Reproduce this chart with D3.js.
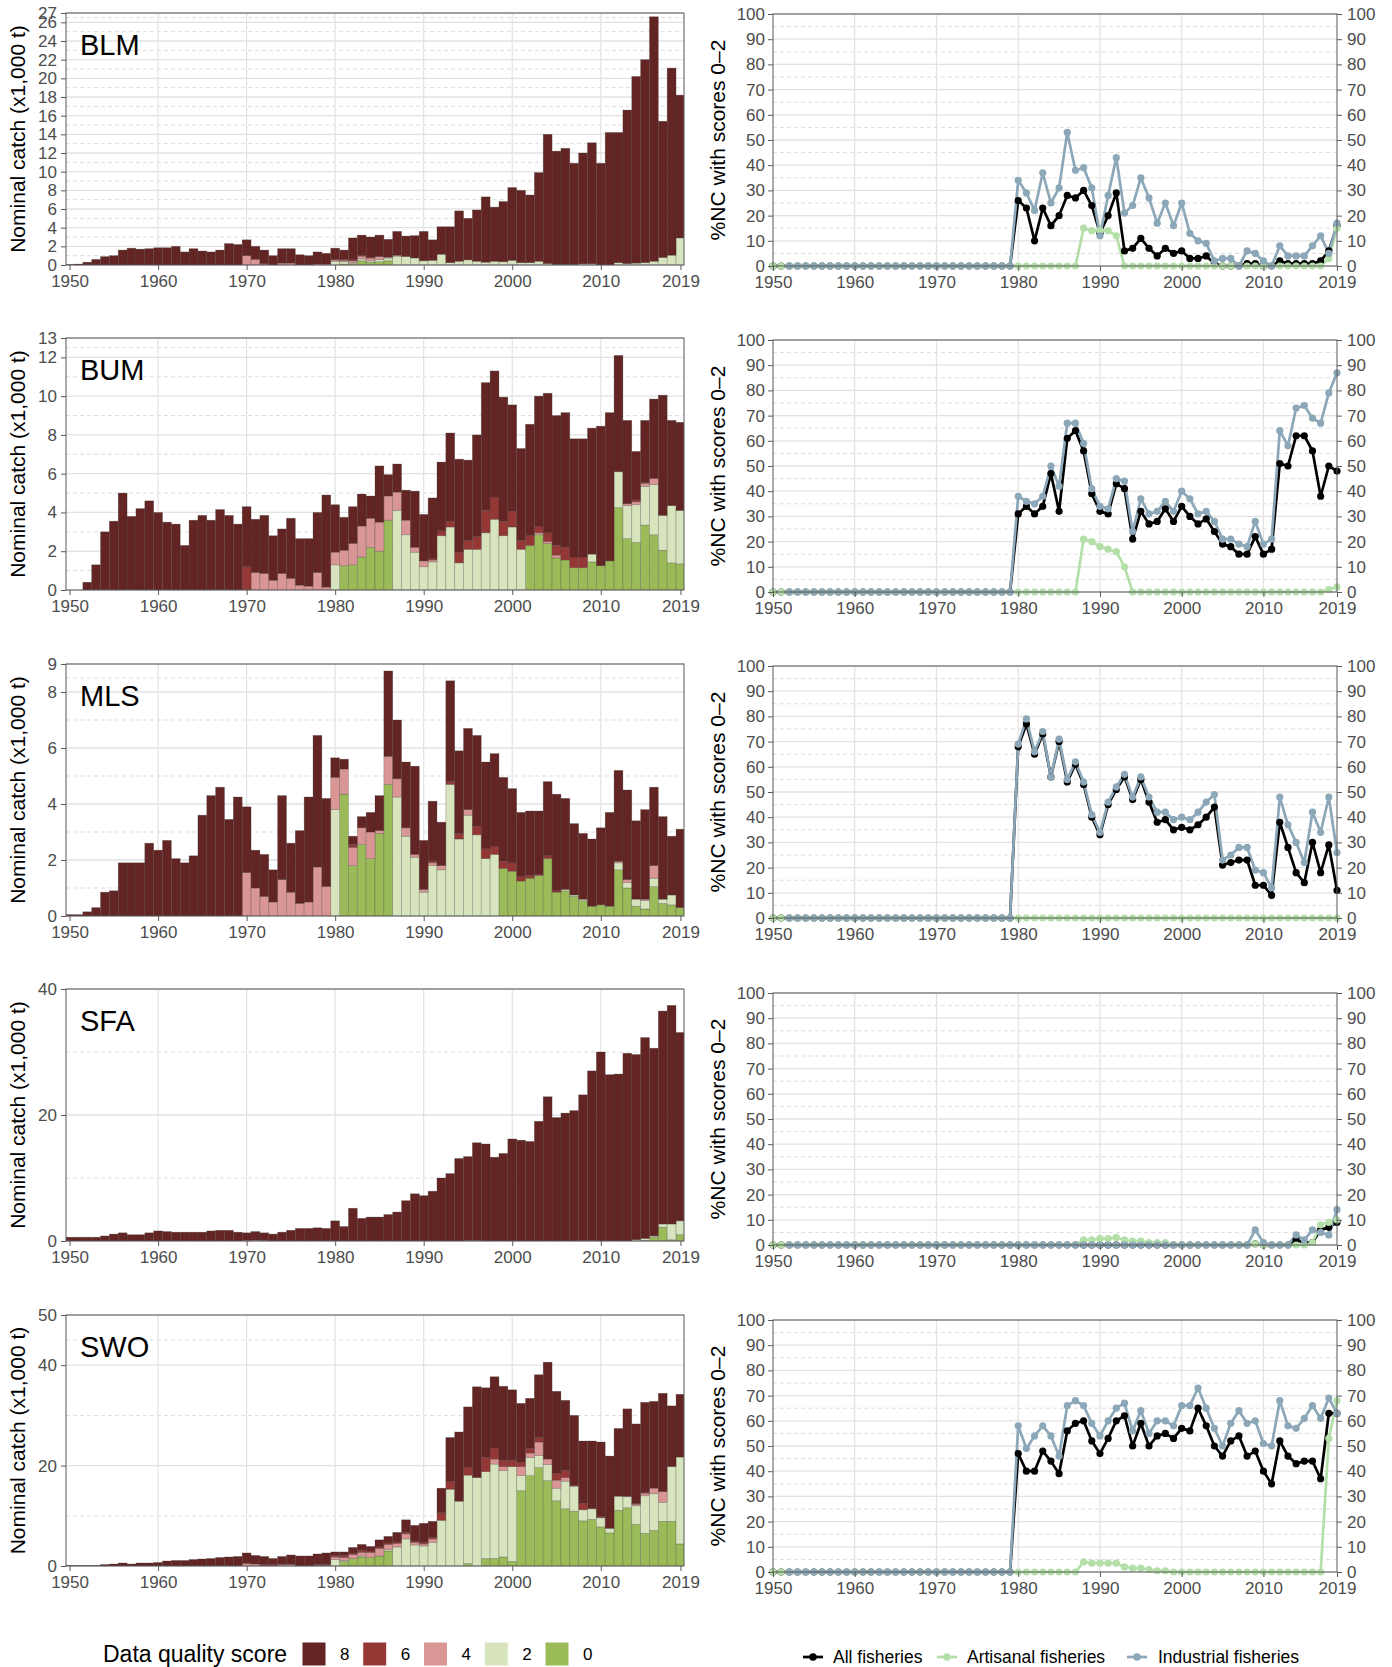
<!DOCTYPE html>
<html>
<head>
<meta charset="utf-8">
<script src="https://cdn.jsdelivr.net/npm/d3@7"></script>
<style>
  body { margin: 0; background: #ffffff; }
  svg text { font-family: "Liberation Sans", Arial, sans-serif; }
</style>
</head>
<body>
<svg id="fig" width="1392" height="1667"></svg>
<script>
// ---------- categories ----------
const years = d3.range(1950, 2020);
const yearTicks = [1950, 1960, 1970, 1980, 1990, 2000, 2010, 2019];
const pctTicks = [0, 10, 20, 30, 40, 50, 60, 70, 80, 90, 100];
const speciesNames = ["BLM", "BUM", "MLS", "SFA", "SWO"];
const scoreKeys = ["8", "6", "4", "2", "0"];
const seriesNames = ["All fisheries", "Artisanal fisheries", "Industrial fisheries"];

// ---------- y-axis breaks for nominal catch (x1,000 t) ----------
const blmTicks = [0, 2, 4, 6, 8, 10, 12, 14, 16, 18, 20, 22, 24, 26, 27];
const bumTicks = [0, 2, 4, 6, 8, 10, 12, 13];
const mlsTicks = [0, 2, 4, 6, 8, 9];
const sfaTicks = [0, 20, 40];
const swoTicks = [0, 20, 40, 50];

// ---------- nominal catch by data quality score, 1950-2019 ----------
const blm8 = [
  0.05,0.1,0.3,0.6,0.9,1.0,1.6,1.8,1.7,1.75,
  1.85,1.85,2.0,1.4,1.75,1.5,1.4,1.6,2.3,2.2,
  1.7,1.4,1.4,1.0,1.55,1.55,1.1,1.0,1.3,1.15,
  1.15,1.0,2.35,2.15,2.15,2.3,1.9,2.55,2.2,2.4,
  3.15,2.2,2.95,3.85,5.4,4.45,5.5,7.0,5.8,6.45,
  7.8,7.75,7.25,9.5,13.85,12.15,12.45,10.85,11.88,12.97,
  10.9,14.2,13.95,16.45,20.0,21.75,26.2,14.6,20.05,15.3];
const blm6 = [
  0,0,0,0,0,0,0,0,0,0,
  0,0,0,0,0,0,0,0,0,0,
  0,0,0.1,0,0,0,0,0,0,0,
  0.1,0.1,0.1,0.1,0.1,0,0,0,0,0,
  0,0,0,0,0,0,0,0,0,0,
  0,0,0,0,0,0,0,0,0,0,
  0,0,0,0,0,0,0,0,0,0];
const blm4 = [
  0,0,0,0,0,0,0,0,0,0,
  0,0,0,0,0,0,0,0,0,0,
  1.0,0.6,0.1,0,0.2,0.2,0,0,0.1,0.1,
  0.15,0.15,0.2,0.3,0.3,0.3,0.1,0.1,0,0,
  0,0,0,0,0,0,0,0,0,0,
  0,0,0,0,0,0,0,0,0,0,
  0,0,0,0,0,0,0,0,0,0];
const blm2 = [
  0,0,0,0,0,0,0,0,0,0,
  0,0,0,0,0,0,0,0,0,0,
  0,0,0,0,0,0,0,0,0,0,
  0.4,0.25,0.1,0.2,0.15,0.25,0.3,0.95,0.9,0.75,
  0.45,0.5,1.15,0.25,0.4,0.55,0.4,0.3,0.4,0.35,
  0.5,0.25,0.25,0.4,0.15,0.05,0.05,0.05,0.12,0.13,
  0,0,0.25,0.15,0.2,0.25,0.4,0.8,1.05,2.9];
const blm0 = [
  0,0,0,0,0,0,0,0,0,0,
  0,0,0,0,0,0,0,0,0,0,
  0,0,0,0,0,0,0,0,0,0,
  0,0.1,0.15,0.45,0.3,0.35,0.45,0,0,0,
  0,0,0,0,0,0,0,0,0,0,
  0,0,0,0,0,0,0,0,0,0,
  0,0,0,0,0,0,0,0,0,0];

const bum8 = [
  0,0,0.4,1.3,3.0,3.55,5.0,3.8,4.2,4.6,
  4.0,3.5,3.4,2.3,3.6,3.85,3.6,4.15,3.85,3.4,
  3.1,2.75,3.0,2.3,2.3,3.1,2.4,2.45,3.1,4.75,
  2.45,1.7,1.9,1.65,1.15,2.9,1.1,1.45,1.55,2.9,
  2.4,3.1,3.55,4.55,4.8,4.15,5.25,6.6,6.5,6.4,
  5.5,4.75,5.75,6.7,7.2,6.7,6.95,6.1,6.1,6.5,
  7.2,7.65,6.0,4.3,2.5,3.2,4.1,6.2,4.4,4.55];
const bum6 = [
  0,0,0,0,0,0,0,0,0,0,
  0,0,0,0,0,0,0,0,0,0,
  1.2,0,0,0,0,0,0,0,0,0,
  0,0,0,0,0,0,0,0,0,0,
  0,0.1,0.25,0.3,0.55,0.45,0.65,1.15,1.15,0.75,
  0.8,0.45,0.5,0.35,0.45,0.5,0.65,0.55,0.55,0,
  0,0,0,0,0.1,0.05,0,0,0,0];
const bum4 = [
  0,0,0,0,0,0,0,0,0,0,
  0,0,0,0,0,0,0,0,0,0,
  0,0.9,0.85,0.5,0.85,0.6,0.25,0.2,0.9,0.15,
  0.65,0.8,1.1,1.6,1.5,1.5,1.25,0.95,0.75,0.25,
  0.3,0.1,0,0,0,0,0,0,0,0,
  0,0,0,0.1,0.1,0.15,0,0,0,0,
  0,0,0,0.1,0.15,0.15,0.3,0,0,0];
const bum2 = [
  0,0,0,0,0,0,0,0,0,0,
  0,0,0,0,0,0,0,0,0,0,
  0,0,0,0,0,0,0,0,0,0,
  1.3,0,0,0,0,0,0,4.1,2.85,1.95,
  1.2,1.45,2.8,3.25,1.4,2.1,2.1,2.95,3.65,2.8,
  3.25,2.1,0,0,0,0,0,0,0,0.4,
  0,0,1.85,1.7,1.95,2.0,2.6,1.8,2.95,2.75];
const bum0 = [
  0,0,0,0,0,0,0,0,0,0,
  0,0,0,0,0,0,0,0,0,0,
  0,0,0,0,0,0,0,0,0,0,
  0,1.25,1.3,1.7,2.2,2.0,3.6,0,0,0,
  0,0,0,0,0,0,0,0,0,0,
  0,0,2.3,2.85,2.4,1.65,1.55,1.15,1.15,1.45,
  1.25,1.5,4.25,2.65,2.45,3.35,2.85,2.05,1.4,1.35];

const mls8 = [
  0.05,0.05,0.15,0.3,0.85,0.9,1.9,1.9,1.9,2.6,
  2.35,2.7,2.05,1.9,2.15,3.6,4.3,4.6,3.45,4.25,
  2.35,1.35,1.5,1.15,3.0,1.75,2.6,3.75,4.7,3.15,
  0.7,0.35,0.3,0.4,0.7,1.25,3.05,2.1,2.35,3.15,
  1.75,2.15,1.55,3.6,2.95,2.9,3.25,3.1,3.3,3.0,
  2.65,2.3,2.3,2.25,2.65,3.45,3.25,2.55,2.35,2.4,
  2.75,3.35,3.25,3.2,2.8,3.2,2.8,2.95,2.1,2.8];
const mls6 = [
  0,0,0,0,0,0,0,0,0,0,
  0,0,0,0,0,0,0,0,0,0,
  0,0,0,0,0,0,0,0,0,0,
  0,0,0.1,0,0,0,0,0,0,0,
  0,0.05,0,0.1,0.2,0,0.3,0.35,0.3,0.25,
  0.3,0.15,0.1,0.05,0.1,0.05,0,0,0,0,
  0,0,0,0,0,0,0,0,0,0];
const mls4 = [
  0,0,0,0,0,0,0,0,0,0,
  0,0,0,0,0,0,0,0,0,0,
  1.55,1.0,0.7,0.5,1.3,0.85,0.45,0.5,1.75,1.05,
  1.15,0.9,0.65,0.6,0.95,0.1,1.0,0.65,0.3,0.1,
  0.1,0.1,0.15,0,0,0.2,0,0,0,0,
  0,0,0,0,0,0,0,0,0,0,
  0,0,0.05,0.1,0,0.05,0.45,0,0,0];
const mls2 = [
  0,0,0,0,0,0,0,0,0,0,
  0,0,0,0,0,0,0,0,0,0,
  0,0,0,0,0,0,0,0,0,0,
  3.8,0,0,0,0,0,0,4.25,2.85,2.1,
  0.85,1.8,1.65,4.7,2.75,3.6,2.9,2.05,2.2,0,
  0,0,0,0,0,0,0.05,0.05,0.05,0,
  0,0,0.25,0.2,0.25,0.3,0.3,0.15,0.35,0];
const mls0 = [
  0,0,0,0,0,0,0,0,0,0,
  0,0,0,0,0,0,0,0,0,0,
  0,0,0,0,0,0,0,0,0,0,
  0,4.35,1.8,2.55,2.05,2.95,4.7,0,0,0,
  0,0,0,0,0,0,0,0,0,1.7,
  1.6,1.25,1.35,1.45,2.05,0.85,0.9,0.7,0.55,0.35,
  0.4,0.35,1.65,1.0,0.35,0.25,1.05,0.45,0.4,0.3];

const sfa8 = [
  0.6,0.6,0.6,0.6,0.8,1.1,1.3,1.0,1.0,1.3,
  1.6,1.5,1.4,1.4,1.4,1.4,1.6,1.7,1.7,1.4,
  1.2,1.35,1.2,1.1,1.4,1.7,2.0,2.0,2.1,2.0,
  3.2,2.3,5.2,3.6,3.8,3.8,4.2,4.6,6.4,7.5,
  7.2,7.9,10.0,10.7,13.1,13.3,15.5,15.4,13.3,13.9,
  16.2,16.0,15.8,19.0,22.9,19.6,20.3,20.7,23.1,26.95,
  30.0,26.4,26.5,29.8,29.4,31.9,29.8,33.8,34.7,29.9];
const sfa6 = [
  0,0,0,0,0,0,0,0,0,0,
  0,0,0,0,0,0,0,0,0,0,
  0,0,0,0,0,0,0,0,0,0,
  0,0,0,0,0,0,0,0,0,0,
  0,0,0,0,0,0,0,0,0,0,
  0,0,0,0,0,0,0,0,0.1,0.05,
  0,0,0,0,0,0,0,0,0,0];
const sfa4 = [
  0,0,0,0,0,0,0,0,0,0,
  0,0,0,0,0,0,0,0,0,0,
  0.1,0.15,0.1,0,0,0,0,0,0,0,
  0,0,0,0,0,0,0,0,0,0,
  0,0,0,0,0,0.1,0.1,0,0,0,
  0,0,0,0,0,0,0,0,0,0,
  0,0,0,0,0,0,0,0,0,0];
const sfa2 = [
  0,0,0,0,0,0,0,0,0,0,
  0,0,0,0,0,0,0,0,0,0,
  0,0,0,0,0,0,0,0,0,0,
  0,0,0,0,0,0,0,0,0,0,
  0,0,0,0,0,0,0,0,0,0,
  0,0,0,0,0,0,0,0,0,0,
  0,0,0,0,0.2,0.3,0.2,0.5,2.5,2.2];
const sfa0 = [
  0,0,0,0,0,0,0,0,0,0,
  0,0,0,0,0,0,0,0,0,0,
  0,0,0,0,0,0,0,0,0,0,
  0,0,0,0,0,0,0,0,0,0,
  0,0,0,0,0,0,0,0,0,0,
  0,0,0,0,0,0,0,0,0,0,
  0,0,0,0,0,0.1,0.6,2.2,0.2,1.0];

const swo8 = [
  0.1,0.1,0.1,0.1,0.3,0.4,0.6,0.4,0.6,0.6,
  0.7,1.0,1.1,1.1,1.3,1.4,1.5,1.7,1.8,1.9,
  2.1,1.7,1.6,1.2,1.6,1.9,2.0,2.0,2.1,2.3,
  0.7,0.7,1.1,1.2,0.9,1.4,1.3,1.9,2.5,3.2,
  3.8,3.2,4.9,8.8,13.8,12.0,18.1,13.9,14.2,14.8,
  14.1,11.7,10.0,12.5,19.3,16.3,14.0,13.9,12.4,13.5,
  14.8,14.4,13.5,17.4,15.8,17.9,17.3,19.6,12.1,12.5];
const swo6 = [
  0,0,0,0,0,0,0,0,0,0,
  0,0,0,0,0,0,0,0,0,0,
  0,0,0.3,0.3,0,0,0,0,0.2,0.2,
  0.3,0.4,0.3,0.4,0.3,0.3,0.3,0.3,0.3,0.2,
  0.3,0.3,1.5,1.5,0,1.6,0,2.8,2.2,1.2,
  1.2,0.9,0.9,0.9,0,1.4,1.4,0.2,1.3,0,
  0.3,0,0,0,0.2,0.2,0,0,0,0];
const swo4 = [
  0,0,0,0,0,0,0,0,0,0,
  0,0,0,0,0,0,0,0,0,0,
  0.5,0.4,0,0,0.3,0.3,0,0,0.1,0.1,
  0.5,0.6,0.8,0.7,1.0,1.5,1.0,0.7,1.0,0.5,
  0.4,0.7,0,0,0,0,0,0,1.0,0.8,
  0,1.8,0.9,2.7,1.1,1.6,0.7,0,0,0,
  0,0,0,0.1,0.3,0.5,1.1,2.1,0,0];
const swo2 = [
  0,0,0,0,0,0,0,0,0,0,
  0,0,0,0,0,0,0,0,0,0,
  0,0,0,0,0,0,0,0,0,0,
  1.3,0.2,0,0.2,0,0,0.3,3.8,5.4,4.2,
  4.0,4.7,9.1,15.3,12.9,17.6,17.6,17.3,18.8,17.2,
  18.9,3.0,3.6,2.4,3.2,2.5,5.5,5.0,2.2,2.1,
  1.8,0.9,2.8,2.2,3.7,7.5,7.3,3.8,10.9,17.3];
const swo0 = [
  0,0,0,0,0,0,0,0,0,0,
  0,0,0,0,0,0,0,0,0,0,
  0,0,0,0,0,0,0,0,0,0,
  0,0.9,1.5,1.8,1.7,2.0,3.0,0,0,0,
  0,0,0,0,0,0.5,0,1.5,1.5,1.8,
  0.9,15.0,18.0,19.6,17.0,13.0,11.4,10.9,9.0,9.3,
  7.8,6.6,11.1,11.6,8.3,6.5,7.1,8.9,8.9,4.4];

// ---------- % of nominal catch with scores 0-2, 1950-2019 ----------
const blmAll = [
  0,0,0,0,0,0,0,0,0,0,
  0,0,0,0,0,0,0,0,0,0,
  0,0,0,0,0,0,0,0,0,0,
  26,23,10,23,16,20,28,27,30,24,
  13,20,29,6,7,11,7,4,7,5,
  6,3,3,4,1,0,0,0,1,1,
  0,0,2,1,1,1,1,2,6,16];
const blmArt = [
  0,0,0,0,0,0,0,0,0,0,
  0,0,0,0,0,0,0,0,0,0,
  0,0,0,0,0,0,0,0,0,0,
  0,0,0,0,0,0,0,0,15,14,
  14,14,12,0,0,0,0,0,0,0,
  0,0,0,0,0,0,0,0,0,0,
  0,0,0,0,0,0,0,0,3,15];
const blmInd = [
  null,null,0,0,0,0,0,0,0,0,
  0,0,0,0,0,0,0,0,0,0,
  0,0,0,0,0,0,0,0,0,0,
  34,29,22,37,25,31,53,38,39,31,
  12,28,43,21,24,35,27,17,25,16,
  25,13,10,9,2,3,3,0,6,5,
  2,0,8,4,4,4,8,12,5,17];

const bumAll = [
  0,0,0,0,0,0,0,0,0,0,
  0,0,0,0,0,0,0,0,0,0,
  0,0,0,0,0,0,0,0,0,0,
  31,34,31,34,47,32,61,64,56,39,
  32,31,43,41,21,32,27,28,33,28,
  34,30,27,29,24,19,18,15,15,22,
  15,17,51,50,62,62,56,38,50,48];
const bumArt = [
  0,0,0,0,0,0,0,0,0,0,
  0,0,0,0,0,0,0,0,0,0,
  0,0,0,0,0,0,0,0,0,0,
  0,0,0,0,0,0,0,0,21,20,
  18,17,16,10,0,0,0,0,0,0,
  0,0,0,0,0,0,0,0,0,0,
  0,0,0,0,0,0,0,0,1,2];
const bumInd = [
  null,null,0,0,0,0,0,0,0,0,
  0,0,0,0,0,0,0,0,0,0,
  0,0,0,0,0,0,0,0,0,0,
  38,36,35,38,50,42,67,67,59,41,
  34,33,45,44,24,37,31,32,36,32,
  40,37,31,32,28,21,21,19,18,28,
  19,21,64,58,73,74,69,67,79,87];

const mlsAll = [
  0,0,0,0,0,0,0,0,0,0,
  0,0,0,0,0,0,0,0,0,0,
  0,0,0,0,0,0,0,0,0,0,
  68,77,65,73,56,70,54,61,53,40,
  33,45,51,56,47,55,46,38,39,35,
  36,35,37,40,44,21,22,23,23,13,
  13,9,38,28,18,14,30,18,29,11];
const mlsArt = [
  0,0,0,0,0,0,0,0,0,0,
  0,0,0,0,0,0,0,0,0,0,
  0,0,0,0,0,0,0,0,0,0,
  0,0,0,0,0,0,0,0,0,0,
  0,0,0,0,0,0,0,0,0,0,
  0,0,0,0,0,0,0,0,0,0,
  0,0,0,0,0,0,0,0,0,0];
const mlsInd = [
  null,null,0,0,0,0,0,0,0,0,
  0,0,0,0,0,0,0,0,0,0,
  0,0,0,0,0,0,0,0,0,0,
  69,79,66,74,56,71,55,62,54,41,
  34,46,52,57,48,56,48,42,42,39,
  40,39,42,46,49,23,25,28,28,19,
  18,12,48,37,30,22,42,34,48,26];

const sfaAll = [
  0,0,0,0,0,0,0,0,0,0,
  0,0,0,0,0,0,0,0,0,0,
  0,0,0,0,0,0,0,0,0,0,
  0,0,0,0,0,0,0,0,0,0,
  0,0,0,0,0,0,0,0,0,0,
  0,0,0,0,0,0,0,0,0,0.5,
  0,0,0,0,2,1,1,6,7,9];
const sfaArt = [
  0,0,0,0,0,0,0,0,0,0,
  0,0,0,0,0,0,0,0,0,0,
  0,0,0,0,0,0,0,0,0,0,
  0,0,0,0,0,0,0,0,2,2,
  2.5,2.5,3,2,1.5,1.5,1,1,1,0,
  0,0,0,0,0,0,0,0,0,0.5,
  0,0,0,0,0,0,1,8,9,10];
const sfaInd = [
  null,null,0,0,0,0,0,0,0,0,
  0,0,0,0,0,0,0,0,0,0,
  0,0,0,0,0,0,0,0,0,0,
  0,0,0,0,0,0,0,0,0,0,
  0,0,0,0,0,0,0,0,0,0,
  0,0,0,0,0,0,0,0,0,6,
  1,0,0,0,4,2,6,5,4,14];

const swoAll = [
  0,0,0,0,0,0,0,0,0,0,
  0,0,0,0,0,0,0,0,0,0,
  0,0,0,0,0,0,0,0,0,0,
  47,40,40,48,44,39,56,59,60,52,
  47,53,60,62,50,59,50,54,55,53,
  57,56,65,58,50,46,52,54,46,48,
  40,35,52,46,43,44,44,37,63,63];
const swoArt = [
  0,0,0,0,0,0,0,0,0,0,
  0,0,0,0,0,0,0,0,0,0,
  0,0,0,0,0,0,0,0,0,0,
  0,0,0,0,0,0,0,0,4,3.5,
  3.5,3.5,3.5,2,1.5,1.5,1,0.5,0.5,0,
  0,0,0,0,0,0,0,0,0,0,
  0,0,0,0,0,0,0,0,53,68];
const swoInd = [
  null,null,0,0,0,0,0,0,0,0,
  0,0,0,0,0,0,0,0,0,0,
  0,0,0,0,0,0,0,0,0,0,
  58,49,54,58,54,46,66,68,66,59,
  54,60,65,67,56,64,55,60,60,58,
  66,66,73,65,57,50,59,64,59,60,
  51,50,68,58,57,61,66,61,69,63];

// ---------- styling ----------
const scoreColors = { "8": "#632523", "6": "#953735", "4": "#d99694", "2": "#d7e4bd", "0": "#9bbb59" };
const seriesColors = ["#000000", "#b4dfa9", "#8ba7b8"];
const GRID = "#e2e2e2", GRID_MINOR = "#dddddd", BORDER = "#595959", TICK_TXT = "#4d4d4d";
const FONT = "Liberation Sans, Arial, sans-serif";

const LX = [66, 684], RX = [773, 1337];
const rowsL = [[13, 265], [338, 590], [664, 916], [989, 1241], [1315, 1566]];
const rowsR = [[14, 266], [340, 592], [666, 918], [993, 1245], [1320, 1572]];

const panels = [
  { name: "BLM", s8: blm8, s6: blm6, s4: blm4, s2: blm2, s0: blm0, ticks: blmTicks, lines: [blmAll, blmArt, blmInd] },
  { name: "BUM", s8: bum8, s6: bum6, s4: bum4, s2: bum2, s0: bum0, ticks: bumTicks, lines: [bumAll, bumArt, bumInd] },
  { name: "MLS", s8: mls8, s6: mls6, s4: mls4, s2: mls2, s0: mls0, ticks: mlsTicks, lines: [mlsAll, mlsArt, mlsInd] },
  { name: "SFA", s8: sfa8, s6: sfa6, s4: sfa4, s2: sfa2, s0: sfa0, ticks: sfaTicks, lines: [sfaAll, sfaArt, sfaInd] },
  { name: "SWO", s8: swo8, s6: swo6, s4: swo4, s2: swo2, s0: swo0, ticks: swoTicks, lines: [swoAll, swoArt, swoInd] }
];

const svg = d3.select("#fig");

function styleAxis(ax) {
  ax.attr("font-family", FONT).attr("font-size", 17);
  ax.select(".domain").remove();
  ax.selectAll(".tick line").attr("stroke", BORDER).attr("stroke-width", 1);
  ax.selectAll(".tick text").attr("fill", TICK_TXT);
}

function hGrid(g, values, y, x0, x1, dashed) {
  g.append("g").selectAll("line").data(values).join("line")
    .attr("x1", x0).attr("x2", x1)
    .attr("y1", d => y(d)).attr("y2", d => y(d))
    .attr("stroke", dashed ? GRID_MINOR : GRID)
    .attr("stroke-width", dashed ? 1 : 1.3)
    .attr("stroke-dasharray", dashed ? "4,3" : null);
}

function vGrid(g, values, x, y0, y1) {
  g.append("g").selectAll("line").data(values).join("line")
    .attr("x1", d => x(d)).attr("x2", d => x(d))
    .attr("y1", y0).attr("y2", y1)
    .attr("stroke", GRID).attr("stroke-width", 1.2);
}

// ---------- stacked catch bars ----------
function drawCatch(p, idx, [top, bottom]) {
  const g = svg.append("g");
  const x = d3.scaleLinear().domain([1949.6, 2019.4]).range(LX);
  const y = d3.scaleLinear().domain([0, d3.max(p.ticks)]).range([bottom, top]);
  const minor = d3.pairs(p.ticks).map(([a, b]) => (a + b) / 2);

  hGrid(g, minor, y, LX[0], LX[1], true);
  hGrid(g, p.ticks, y, LX[0], LX[1], false);
  vGrid(g, yearTicks.slice(1, -1), x, top, bottom);

  const rows = years.map((yr, k) => ({ year: yr, "0": p.s0[k], "2": p.s2[k], "4": p.s4[k], "6": p.s6[k], "8": p.s8[k] }));
  const stacked = d3.stack().keys(["0", "2", "4", "6", "8"])(rows);

  const clipId = "clipL" + idx;
  g.append("clipPath").attr("id", clipId).append("rect")
    .attr("x", LX[0]).attr("y", top).attr("width", LX[1] - LX[0]).attr("height", bottom - top);

  const bw = x(1951) - x(1950);
  g.append("g").attr("clip-path", `url(#${clipId})`)
    .selectAll("g").data(stacked).join("g")
    .attr("fill", d => scoreColors[d.key])
    .selectAll("rect").data(d => d.filter(v => v[1] - v[0] > 0)).join("rect")
    .attr("x", d => x(d.data.year) - bw / 2)
    .attr("width", bw)
    .attr("y", d => y(d[1]))
    .attr("height", d => y(d[0]) - y(d[1]))
    .attr("stroke", "rgba(55,55,55,0.35)")
    .attr("stroke-width", 0.7);

  g.append("rect").attr("x", LX[0]).attr("y", top)
    .attr("width", LX[1] - LX[0]).attr("height", bottom - top)
    .attr("fill", "none").attr("stroke", BORDER).attr("stroke-width", 1);

  const ay = g.append("g").attr("transform", `translate(${LX[0]},0)`)
    .call(d3.axisLeft(y).tickValues(p.ticks).tickSize(5).tickPadding(4).tickFormat(d3.format("d")));
  styleAxis(ay);
  const ax = g.append("g").attr("transform", `translate(0,${bottom})`)
    .call(d3.axisBottom(x).tickValues(yearTicks).tickSize(5).tickPadding(5).tickFormat(d3.format("d")));
  styleAxis(ax);

  g.append("text").attr("x", 80).attr("y", top + 42)
    .attr("font-size", 29).attr("fill", "#000").text(p.name);

  g.append("text")
    .attr("transform", `translate(25,${(top + bottom) / 2}) rotate(-90)`)
    .attr("text-anchor", "middle").attr("font-size", 21).attr("fill", "#000")
    .text("Nominal catch (x1,000 t)");
}

// ---------- share of catch with scores 0-2 ----------
function drawShare(p, [top, bottom]) {
  const g = svg.append("g");
  const x = d3.scaleLinear().domain([1950, 2019]).range(RX);
  const y = d3.scaleLinear().domain([0, 100]).range([bottom, top]);
  const minor = d3.pairs(pctTicks).map(([a, b]) => (a + b) / 2);

  hGrid(g, minor, y, RX[0], RX[1], true);
  hGrid(g, pctTicks, y, RX[0], RX[1], false);
  vGrid(g, yearTicks.slice(1, -1), x, top, bottom);

  const series = p.lines.map((vals, s) => ({
    s, color: seriesColors[s],
    pts: years.map((yr, k) => ({ year: yr, v: vals[k] }))
  }));
  const line = d3.line().defined(d => d.v != null).x(d => x(d.year)).y(d => y(d.v));

  g.append("g").selectAll("path").data(series).join("path")
    .attr("d", d => line(d.pts))
    .attr("fill", "none").attr("stroke", d => d.color)
    .attr("stroke-width", 2.7).attr("stroke-linejoin", "round");

  g.append("g").selectAll("g").data(series).join("g")
    .attr("fill", d => d.color)
    .selectAll("circle").data(d => d.pts.filter(q => q.v != null)).join("circle")
    .attr("cx", d => x(d.year)).attr("cy", d => y(d.v)).attr("r", 3.6);

  g.append("rect").attr("x", RX[0]).attr("y", top)
    .attr("width", RX[1] - RX[0]).attr("height", bottom - top)
    .attr("fill", "none").attr("stroke", BORDER).attr("stroke-width", 1);

  const al = g.append("g").attr("transform", `translate(${RX[0]},0)`)
    .call(d3.axisLeft(y).tickValues(pctTicks).tickSize(5).tickPadding(3));
  styleAxis(al);
  const ar = g.append("g").attr("transform", `translate(${RX[1]},0)`)
    .call(d3.axisRight(y).tickValues(pctTicks).tickSize(5).tickPadding(5));
  styleAxis(ar);
  const ax = g.append("g").attr("transform", `translate(0,${bottom})`)
    .call(d3.axisBottom(x).tickValues(yearTicks).tickSize(5).tickPadding(5).tickFormat(d3.format("d")));
  styleAxis(ax);

  g.append("text")
    .attr("transform", `translate(725,${(top + bottom) / 2}) rotate(-90)`)
    .attr("text-anchor", "middle").attr("font-size", 21).attr("fill", "#000")
    .text("%NC with scores 0\u20132");
}

panels.forEach((p, i) => {
  drawCatch(p, i, rowsL[i]);
  drawShare(p, rowsR[i]);
});

// ---------- legends ----------
const legL = svg.append("g").attr("font-family", FONT);
legL.append("text").attr("x", 103).attr("y", 1662).attr("font-size", 23).attr("fill", "#000")
  .text("Data quality score");
const swX = d3.scalePoint().domain(scoreKeys).range([302, 545]);
legL.selectAll("rect").data(scoreKeys).join("rect")
  .attr("x", d => swX(d)).attr("y", 1642).attr("width", 24).attr("height", 24)
  .attr("fill", d => scoreColors[d]).attr("stroke", "#ffffff").attr("stroke-width", 1);
legL.selectAll("text.lab").data(scoreKeys).join("text").attr("class", "lab")
  .attr("x", d => swX(d) + 38).attr("y", 1660).attr("font-size", 17).attr("fill", "#000")
  .text(d => d);

const legR = svg.append("g").attr("font-family", FONT);
const keyX = [803, 937, 1127];
const textX = [833, 967, 1158];
seriesNames.forEach((name, s) => {
  legR.append("line").attr("x1", keyX[s]).attr("x2", keyX[s] + 20)
    .attr("y1", 1657).attr("y2", 1657)
    .attr("stroke", seriesColors[s]).attr("stroke-width", 2.7);
  legR.append("circle").attr("cx", keyX[s] + 10).attr("cy", 1657).attr("r", 3.8)
    .attr("fill", seriesColors[s]);
  legR.append("text").attr("x", textX[s]).attr("y", 1663).attr("font-size", 17.5)
    .attr("fill", "#000").text(name);
});
</script>
